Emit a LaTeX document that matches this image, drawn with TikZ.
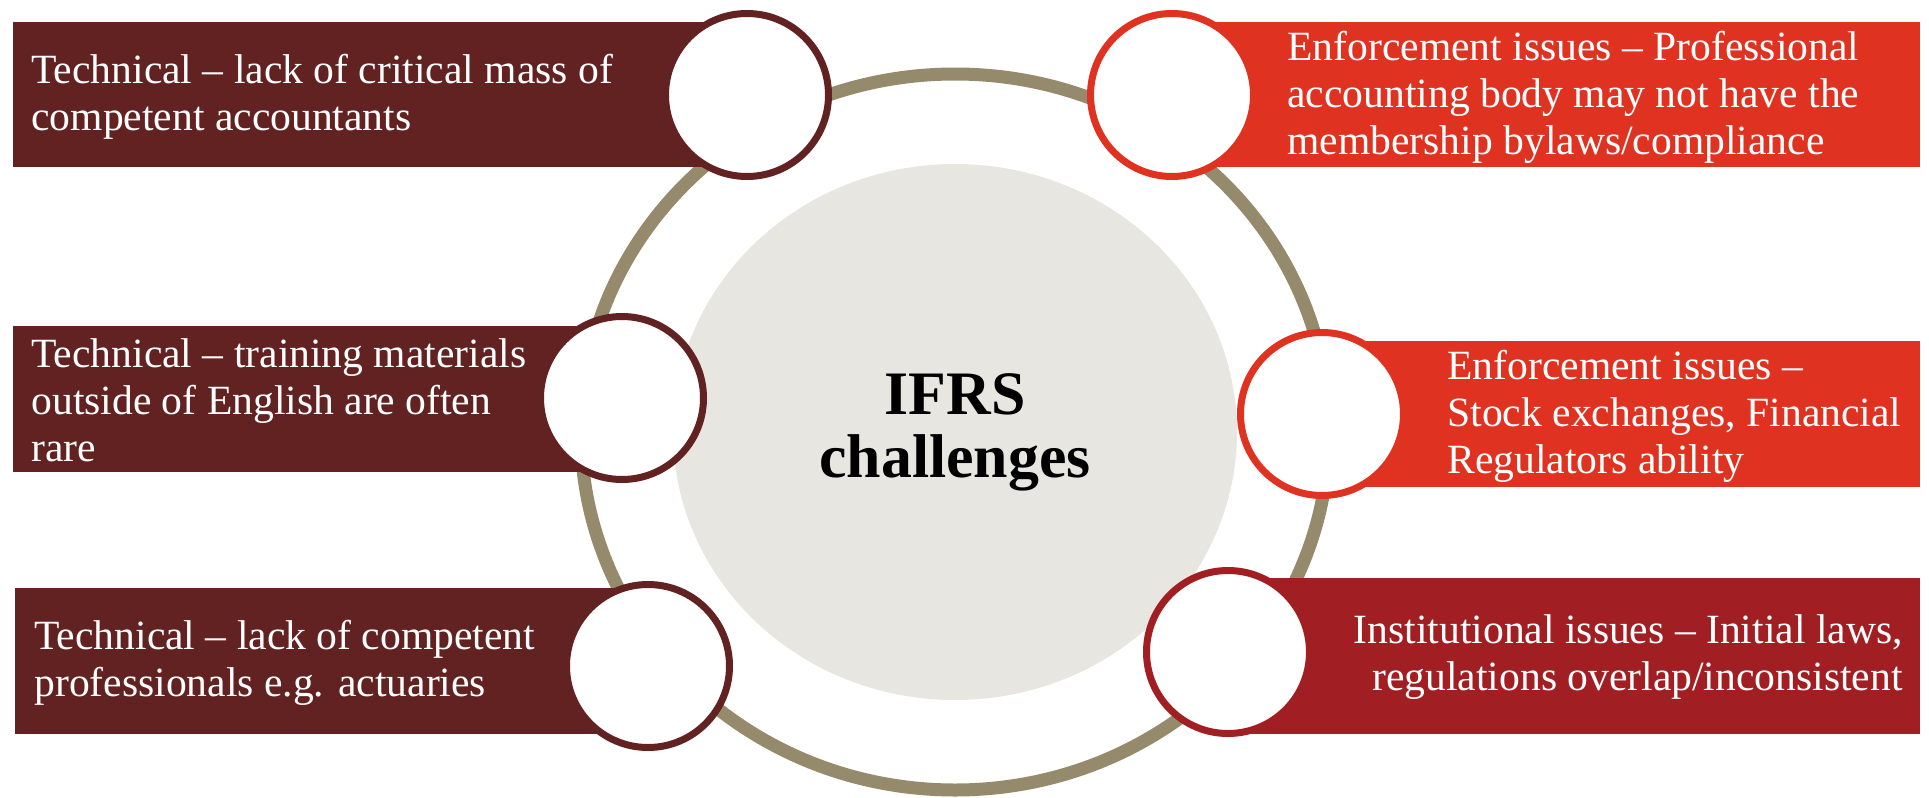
\documentclass[tikz,border=0pt]{standalone}
\usepackage{fontspec}
\setmainfont{Liberation Serif}
\usetikzlibrary{shapes.geometric}

\definecolor{maroon}{RGB}{98,34,33}
\definecolor{brightred}{RGB}{224,50,32}
\definecolor{crimson}{RGB}{161,31,34}
\definecolor{ringcol}{RGB}{150,138,108}
\definecolor{corecol}{RGB}{231,230,225}

\begin{document}
\begin{tikzpicture}[x=0.5pt,y=-0.5pt]
	\tikzstyle{hole} = [circle,fill=white,line width=3.5pt,minimum size=81.5pt,inner sep=0pt];
	\tikzstyle{itemtext} = [text=white,inner sep=0pt,font=\fontsize{20.8}{23.5}\selectfont];
	\useasboundingbox (0,0) rectangle (1929,798);
	% ring and grey core
	\node (ring) [ellipse,draw=ringcol,line width=6.5pt,minimum width=374pt,minimum height=358pt] at (955,432) {};
	\node (core) [ellipse,fill=corecol,minimum width=282pt,minimum height=268pt,align=center,
		font=\bfseries\fontsize{30.9}{31.5}\selectfont] at (955,432) {IFRS\\challenges};
	% bars behind the circles
	\fill[maroon] (13,22) rectangle (747,167);
	\fill[maroon] (13,326) rectangle (622,472);
	\fill[maroon] (15,588) rectangle (648,734);
	\fill[brightred] (1172,22) rectangle (1920,167);
	\fill[brightred] (1322,341) rectangle (1920,487);
	\fill[crimson] (1228,578) rectangle (1920,734);
	% circles on the ring
	\node[hole,draw=maroon] (c1) at (747,95) {};
	\node[hole,draw=maroon] (c2) at (622,398) {};
	\node[hole,draw=maroon] (c3) at (648,666) {};
	\node[hole,draw=brightred] (c4) at (1172,95) {};
	\node[hole,draw=brightred] (c5) at (1322,414) {};
	\node[hole,draw=crimson] (c6) at (1228,652) {};
	% texts
	\node[itemtext,anchor=west,align=left] (t1) at (31,97) {Technical -- lack of critical mass of\\competent accountants};
	\node[itemtext,anchor=west,align=left] (t2) at (31,400) {Technical -- training materials\\outside of English are often\\rare};
	\node[itemtext,anchor=west,align=left] (t3) at (34,663) {Technical -- lack of competent\\professionals e.g. actuaries};
	\node[itemtext,anchor=west,align=left] (t4) at (1287,97) {Enforcement issues -- Professional\\accounting body may not have the\\membership bylaws/compliance};
	\node[itemtext,anchor=west,align=left] (t5) at (1447,416) {Enforcement issues --\\Stock exchanges, Financial\\Regulators ability};
	\node[itemtext,anchor=east,align=right] (t6) at (1903,657) {Institutional issues -- Initial laws,\\regulations overlap/inconsistent};
\end{tikzpicture}
\end{document}
